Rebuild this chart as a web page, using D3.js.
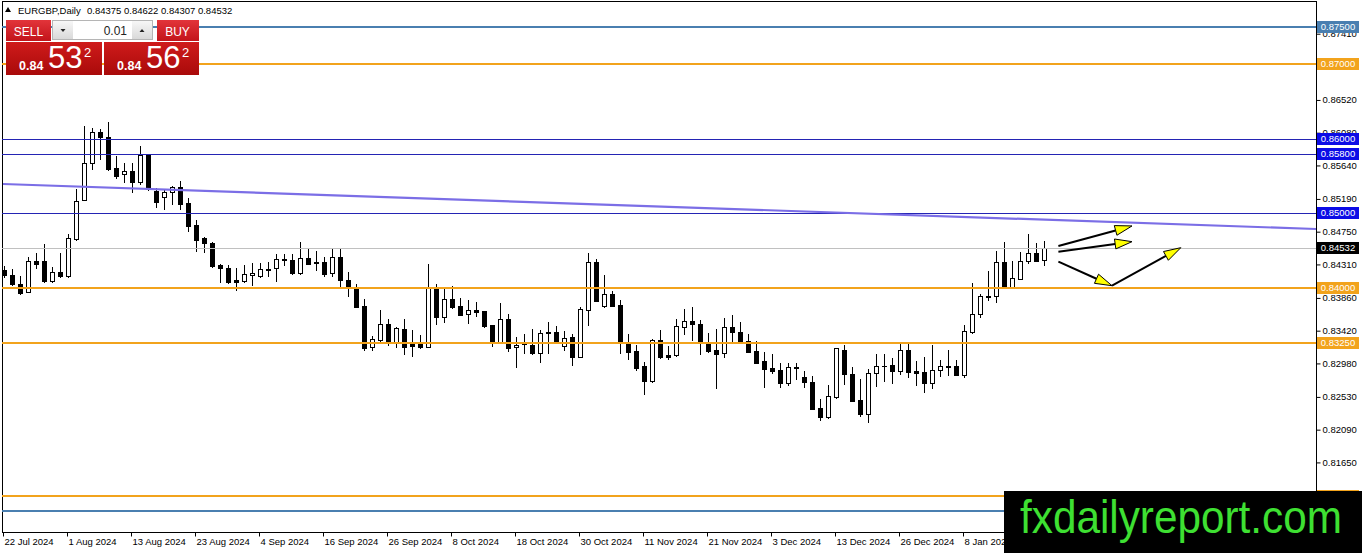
<!DOCTYPE html>
<html>
<head>
<meta charset="utf-8">
<title>EURGBP, Daily</title>
<script src="https://cdn.jsdelivr.net/npm/d3@7"></script>
<style>
    html, body { margin: 0; padding: 0; background: #fff; overflow: hidden; }
    svg { display: block; font-family: "Liberation Sans", Arial, sans-serif; }
</style>
</head>
<body>
<div id="chart"></div>
<script>
'use strict';

// EURGBP daily candles, 22 Jul 2024 .. Jan 2025
var opens = [
    0.84235, 0.84168, 0.84047, 0.83940, 0.84356, 0.84356, 0.84087, 0.84208, 0.84155, 0.84652,
    0.85176, 0.85673, 0.86090, 0.86023, 0.85606, 0.85525, 0.85566, 0.85418, 0.85785, 0.85297,
    0.85216, 0.85284, 0.85351, 0.85136, 0.84840, 0.84665, 0.84598, 0.84302, 0.84262, 0.84101,
    0.84087, 0.84168, 0.84155, 0.84235, 0.84262, 0.84383, 0.84370, 0.84195, 0.84396, 0.84343,
    0.84343, 0.84195, 0.84410, 0.84101, 0.83993, 0.83751, 0.83200, 0.83294, 0.83509, 0.83254,
    0.83442, 0.83268, 0.83268, 0.83200, 0.83980, 0.83604, 0.83845, 0.83751, 0.83644, 0.83698,
    0.83684, 0.83496, 0.83254, 0.83577, 0.83200, 0.83247, 0.83227, 0.83120, 0.83388, 0.83402,
    0.83214, 0.83335, 0.83066, 0.83698, 0.84343, 0.83751, 0.83913, 0.83765, 0.83254, 0.83147,
    0.82945, 0.82743, 0.83294, 0.83093, 0.83093, 0.83469, 0.83550, 0.83509, 0.83268, 0.83160,
    0.83120, 0.83469, 0.83402, 0.83281, 0.83147, 0.83012, 0.82918, 0.82891, 0.82716, 0.82918,
    0.82797, 0.82730, 0.82380, 0.82260, 0.82528, 0.83160, 0.82837, 0.82488, 0.82300, 0.82851,
    0.82945, 0.82958, 0.82878, 0.83160, 0.82878, 0.82864, 0.82716, 0.82891, 0.82945, 0.82945,
    0.82824, 0.83402, 0.83644, 0.83886, 0.83886, 0.84343, 0.84007, 0.84114, 0.84356, 0.84464,
    0.84375
];
var highs = [
    0.84289, 0.84249, 0.84155, 0.84410, 0.84464, 0.84585, 0.84276, 0.84464, 0.84719, 0.85324,
    0.86170, 0.86144, 0.86130, 0.86224, 0.85767, 0.85673, 0.85673, 0.85902, 0.85794, 0.85337,
    0.85324, 0.85364, 0.85431, 0.85203, 0.84907, 0.84679, 0.84605, 0.84316, 0.84302, 0.84262,
    0.84302, 0.84329, 0.84329, 0.84343, 0.84450, 0.84450, 0.84450, 0.84612, 0.84531, 0.84491,
    0.84410, 0.84517, 0.84517, 0.84208, 0.84047, 0.83845, 0.83348, 0.83698, 0.83577, 0.83469,
    0.83577, 0.83429, 0.83362, 0.84316, 0.84047, 0.84007, 0.84020, 0.83859, 0.83832, 0.83805,
    0.83690, 0.83500, 0.83792, 0.83644, 0.83335, 0.83375, 0.83442, 0.83429, 0.83536, 0.83483,
    0.83415, 0.83375, 0.83738, 0.84464, 0.84383, 0.84168, 0.83953, 0.83832, 0.83375, 0.83227,
    0.82999, 0.83308, 0.83429, 0.83214, 0.83577, 0.83711, 0.83738, 0.83563, 0.83388, 0.83442,
    0.83590, 0.83631, 0.83536, 0.83375, 0.83281, 0.83133, 0.83106, 0.82985, 0.82985, 0.82985,
    0.82878, 0.82810, 0.82501, 0.82690, 0.83190, 0.83227, 0.82932, 0.82770, 0.82905, 0.83106,
    0.83106, 0.83052, 0.83240, 0.83268, 0.83012, 0.83066, 0.83227, 0.83026, 0.83160, 0.83026,
    0.83496, 0.84060, 0.83913, 0.84222, 0.84491, 0.84612, 0.84356, 0.84477, 0.84719, 0.84598,
    0.84622
];
var lows = [
    0.84141, 0.84034, 0.83913, 0.83935, 0.84262, 0.84074, 0.84074, 0.84141, 0.84141, 0.84638,
    0.85170, 0.85593, 0.85727, 0.85579, 0.85472, 0.85418, 0.85284, 0.85391, 0.85310, 0.85082,
    0.85055, 0.85122, 0.85055, 0.84759, 0.84491, 0.84477, 0.84276, 0.84074, 0.84060, 0.83966,
    0.84074, 0.84034, 0.84141, 0.84155, 0.84087, 0.84302, 0.84188, 0.84188, 0.84310, 0.84235,
    0.84155, 0.84155, 0.84007, 0.83886, 0.83732, 0.83160, 0.83160, 0.83268, 0.83227, 0.83200,
    0.83106, 0.83079, 0.83187, 0.83195, 0.83509, 0.83536, 0.83724, 0.83625, 0.83523, 0.83617,
    0.83469, 0.83214, 0.83250, 0.83147, 0.82932, 0.83120, 0.83106, 0.82999, 0.83120, 0.83250,
    0.83160, 0.82958, 0.83060, 0.83496, 0.83815, 0.83738, 0.83745, 0.83120, 0.83039, 0.82891,
    0.82569, 0.82730, 0.83053, 0.83039, 0.83079, 0.83375, 0.83294, 0.83106, 0.83133, 0.82649,
    0.83066, 0.83268, 0.83268, 0.83127, 0.82980, 0.82663, 0.82851, 0.82663, 0.82690, 0.82770,
    0.82663, 0.82362, 0.82219, 0.82246, 0.82522, 0.82703, 0.82470, 0.82273, 0.82192, 0.82676,
    0.82743, 0.82716, 0.82837, 0.82797, 0.82690, 0.82596, 0.82649, 0.82810, 0.82824, 0.82820,
    0.82797, 0.83388, 0.83604, 0.83832, 0.83805, 0.84000, 0.84000, 0.84108, 0.84329, 0.84350,
    0.84307
];
var closes = [
    0.84168, 0.84047, 0.83926, 0.84356, 0.84316, 0.84087, 0.84208, 0.84155, 0.84665, 0.85163,
    0.85673, 0.86090, 0.86023, 0.85593, 0.85499, 0.85566, 0.85418, 0.85781, 0.85324, 0.85149,
    0.85284, 0.85351, 0.85122, 0.84827, 0.84638, 0.84598, 0.84289, 0.84262, 0.84074, 0.84074,
    0.84181, 0.84195, 0.84249, 0.84242, 0.84383, 0.84370, 0.84195, 0.84396, 0.84316, 0.84329,
    0.84181, 0.84410, 0.84101, 0.83993, 0.83738, 0.83187, 0.83308, 0.83509, 0.83254, 0.83456,
    0.83200, 0.83214, 0.83200, 0.83993, 0.83604, 0.83845, 0.83738, 0.83630, 0.83698, 0.83671,
    0.83483, 0.83254, 0.83577, 0.83187, 0.83227, 0.83240, 0.83120, 0.83388, 0.83402, 0.83254,
    0.83321, 0.83066, 0.83711, 0.84343, 0.83819, 0.83913, 0.83751, 0.83254, 0.83133, 0.82918,
    0.82743, 0.83294, 0.83066, 0.83066, 0.83483, 0.83550, 0.83509, 0.83268, 0.83147, 0.83106,
    0.83469, 0.83402, 0.83281, 0.83133, 0.82985, 0.82905, 0.82878, 0.82716, 0.82932, 0.82932,
    0.82730, 0.82367, 0.82260, 0.82542, 0.83187, 0.82837, 0.82475, 0.82300, 0.82851, 0.82945,
    0.82940, 0.82878, 0.83160, 0.82864, 0.82851, 0.82716, 0.82891, 0.82945, 0.82932, 0.82824,
    0.83415, 0.83644, 0.83886, 0.83872, 0.84343, 0.84007, 0.84128, 0.84356, 0.84464, 0.84356,
    0.84532
];

var xLabels = ['22 Jul 2024', '1 Aug 2024', '13 Aug 2024', '23 Aug 2024', '4 Sep 2024', '16 Sep 2024',
    '26 Sep 2024', '8 Oct 2024', '18 Oct 2024', '30 Oct 2024', '11 Nov 2024', '21 Nov 2024',
    '3 Dec 2024', '13 Dec 2024', '26 Dec 2024', '8 Jan 2025'];
var labelBars = [0, 8, 16, 24, 32, 40, 48, 56, 64, 72, 80, 88, 96, 104, 112, 120];

var yTicks = [0.87410, 0.86970, 0.86520, 0.86080, 0.85640, 0.85190, 0.84750, 0.84310,
    0.83860, 0.83420, 0.82980, 0.82530, 0.82090, 0.81650];

var levelPrices = [0.87500, 0.87000, 0.86000, 0.85800, 0.85000, 0.84000, 0.83250, 0.81200, 0.81000];
var levelKinds = ['steel', 'orange', 'blue', 'blue', 'blue', 'orange', 'orange', 'orange', 'steel'];

var bidPrice = 0.84532;
var trendBars = [-0.125, 164];
var trendPrices = [0.85391, 0.84786];

// hand-drawn forecast arrows: [fromBar, fromPrice, toBar, toPrice]
var arrows = [
    [131.8, 0.84558, 141.0, 0.84827],
    [131.8, 0.84481, 141.0, 0.84616],
    [131.8, 0.84347, 138.5, 0.84024],
    [138.5, 0.84024, 147.1, 0.84535]
];

var titleText = 'EURGBP,Daily';
var ohlcText = '0.84375 0.84622 0.84307 0.84532';

var W = 1362, H = 553;
var plot = {left: 2, right: 1316, top: 2, bottom: 532};
var stamp = {left: 1004, top: 491};

var kindColor = {steel: '#4a7fb0', orange: '#f2a31c', blue: '#2424b4'};
var kindBox = {steel: '#4a7fb0', orange: '#f2a31c', blue: '#0c0ce6'};
var kindWidth = {steel: 2, orange: 2, blue: 1};

var x = d3.scaleLinear().domain([-0.25, 164]).range([plot.left, plot.right]);
var y = d3.scaleLinear().domain([0.80715, 0.87836]).range([plot.bottom, plot.top]);

var svg = d3.select('#chart').append('svg')
    .attr('width', W)
    .attr('height', H)
    .attr('viewBox', '0 0 ' + W + ' ' + H);

var defs = svg.append('defs');
defs.append('clipPath').attr('id', 'plotClip')
    .append('rect')
    .attr('x', plot.left).attr('y', plot.top)
    .attr('width', plot.right - plot.left).attr('height', plot.bottom - plot.top);

function gradient(id, top, bottom) {
    var gr = defs.append('linearGradient').attr('id', id)
        .attr('x1', 0).attr('y1', 0).attr('x2', 0).attr('y2', 1);
    gr.append('stop').attr('offset', '0%').attr('stop-color', top);
    gr.append('stop').attr('offset', '100%').attr('stop-color', bottom);
}
gradient('btnRed', '#e2343a', '#c3141b');
gradient('priceRed', '#cf1b1b', '#a90a0a');
gradient('btnGrey', '#f7f7f7', '#d9d9d9');

function crisp(v) { return Math.round(v) + 0.5; }

svg.append('rect').attr('width', W).attr('height', H).attr('fill', '#fff');

// chart frame
svg.append('rect')
    .attr('x', plot.left + 0.5).attr('y', plot.top - 0.5)
    .attr('width', plot.right - plot.left).attr('height', plot.bottom - plot.top + 1)
    .attr('fill', 'none').attr('stroke', '#000').attr('stroke-width', 1);

var candles = opens.map(function(o, i) {
    return {i: i, o: o, h: highs[i], l: lows[i], c: closes[i]};
});

var plotG = svg.append('g').attr('clip-path', 'url(#plotClip)');

function cx(d) { return crisp(x(d.i)); }

var bars = plotG.selectAll('g.candle')
    .data(candles)
    .enter().append('g')
    .attr('class', 'candle');

bars.append('line')
    .attr('x1', cx).attr('x2', cx)
    .attr('y1', function(d) { return Math.round(y(d.h)); })
    .attr('y2', function(d) { return Math.round(y(d.l)) + 1; })
    .attr('stroke', '#000')
    .attr('stroke-width', 1);

bars.append('rect')
    .attr('x', function(d) { return cx(d) - 2; })
    .attr('width', 4)
    .attr('y', function(d) { return crisp(y(Math.max(d.o, d.c))); })
    .attr('height', function(d) {
        var hgt = Math.round(y(Math.min(d.o, d.c))) - Math.round(y(Math.max(d.o, d.c)));
        return Math.max(hgt, 0.01);
    })
    .attr('fill', function(d) { return d.c >= d.o ? '#fff' : '#000'; })
    .attr('stroke', '#000')
    .attr('stroke-width', 1);

// horizontal levels
var levels = levelPrices.map(function(p, i) { return {price: p, kind: levelKinds[i]}; });

function levelY(d) {
    return kindWidth[d.kind] === 1 ? crisp(y(d.price)) : Math.round(y(d.price));
}

plotG.selectAll('line.level')
    .data(levels)
    .enter().append('line')
    .attr('class', 'level')
    .attr('x1', plot.left).attr('x2', plot.right)
    .attr('y1', levelY)
    .attr('y2', levelY)
    .attr('stroke', function(d) { return kindColor[d.kind]; })
    .attr('stroke-width', function(d) { return kindWidth[d.kind]; });

// bid line
plotG.append('line')
    .attr('x1', plot.left).attr('x2', plot.right)
    .attr('y1', crisp(y(bidPrice))).attr('y2', crisp(y(bidPrice)))
    .attr('stroke', '#c0c0c0').attr('stroke-width', 1);

// trend line
plotG.append('line')
    .attr('x1', x(trendBars[0])).attr('y1', y(trendPrices[0]))
    .attr('x2', x(trendBars[1])).attr('y2', y(trendPrices[1]))
    .attr('stroke', '#7b6ee6').attr('stroke-width', 2.2);

// arrows
var headLen = 17, headHalf = 5;
arrows.forEach(function(a) {
    var x1 = x(a[0]), y1 = y(a[1]), x2 = x(a[2]), y2 = y(a[3]);
    var ang = Math.atan2(y2 - y1, x2 - x1);
    var bx = x2 - headLen * Math.cos(ang), by = y2 - headLen * Math.sin(ang);
    var px = -Math.sin(ang) * headHalf, py = Math.cos(ang) * headHalf;
    plotG.append('line')
        .attr('x1', x1).attr('y1', y1).attr('x2', bx).attr('y2', by)
        .attr('stroke', '#000').attr('stroke-width', 2);
    plotG.append('path')
        .attr('d', 'M' + x2 + ',' + y2 + 'L' + (bx + px) + ',' + (by + py) + 'L' + (bx - px) + ',' + (by - py) + 'Z')
        .attr('fill', '#ffff00').attr('stroke', '#000').attr('stroke-width', 1);
});

// price axis
var yAxis = d3.axisRight(y)
    .tickValues(yTicks)
    .tickFormat(d3.format('.5f'))
    .tickSize(4)
    .tickPadding(2);

var yAxisG = svg.append('g')
    .attr('transform', 'translate(' + (plot.right + 0.5) + ',0)')
    .call(yAxis);
yAxisG.select('.domain').remove();
yAxisG.selectAll('.tick line').attr('stroke', '#000');
yAxisG.selectAll('.tick text')
    .attr('fill', '#000')
    .style('font-size', '9.5px')
    .style('font-family', '"Liberation Sans", Arial, sans-serif');

// level price boxes (the two lowest sit under the watermark, only their edge shows)
var boxes = levels.concat([{price: bidPrice, kind: 'bid'}]);
var boxG = svg.selectAll('g.pbox')
    .data(boxes)
    .enter().append('g')
    .attr('class', 'pbox')
    .attr('transform', function(d) { return 'translate(' + (plot.right + 1) + ',' + Math.round(y(d.price)) + ')'; });

boxG.append('rect')
    .attr('x', 0).attr('y', -6)
    .attr('width', 42).attr('height', 12)
    .attr('fill', function(d) { return d.kind === 'bid' ? '#000' : kindBox[d.kind]; });

boxG.filter(function(d) { return y(d.price) < stamp.top - 8; })
    .append('text')
    .attr('x', 21).attr('y', 0).attr('dy', '0.35em')
    .attr('text-anchor', 'middle')
    .attr('fill', '#fff')
    .style('font-size', '9.5px')
    .text(function(d) { return d3.format('.5f')(d.price); });

// time axis
var xAxis = d3.axisBottom(x)
    .tickValues(labelBars)
    .tickFormat(function(d, i) { return xLabels[i]; })
    .tickSize(4)
    .tickPadding(2);

var xAxisG = svg.append('g')
    .attr('transform', 'translate(-1,' + (plot.bottom + 0.5) + ')')
    .call(xAxis);
xAxisG.select('.domain').remove();
xAxisG.selectAll('.tick line').attr('stroke', '#000');
xAxisG.selectAll('.tick text')
    .attr('text-anchor', 'start')
    .attr('x', 1)
    .attr('fill', '#000')
    .style('font-size', '9.5px')
    .style('font-family', '"Liberation Sans", Arial, sans-serif');

// title
svg.append('path').attr('d', 'M5,12L11,12L8,7Z').attr('fill', '#000');
svg.append('text').attr('x', 18).attr('y', 14)
    .style('font-size', '9.5px').attr('fill', '#000').text(titleText);
svg.append('text').attr('x', 87).attr('y', 14)
    .style('font-size', '9.5px').attr('fill', '#000').text(ohlcText);

// one-click trading panel
var panel = svg.append('g');
panel.append('rect').attr('x', 6).attr('y', 20).attr('width', 45).attr('height', 21).attr('fill', 'url(#btnRed)');
panel.append('rect').attr('x', 157).attr('y', 20).attr('width', 42).attr('height', 21).attr('fill', 'url(#btnRed)');
panel.append('rect').attr('x', 6).attr('y', 42).attr('width', 96).attr('height', 33).attr('fill', 'url(#priceRed)');
panel.append('rect').attr('x', 104).attr('y', 42).attr('width', 95).attr('height', 33).attr('fill', 'url(#priceRed)');

panel.append('rect').attr('x', 52.5).attr('y', 20.5).attr('width', 100).attr('height', 19)
    .attr('fill', '#fff').attr('stroke', '#b5b5b5');
panel.append('rect').attr('x', 53).attr('y', 21).attr('width', 20).attr('height', 18).attr('fill', 'url(#btnGrey)');
panel.append('rect').attr('x', 132).attr('y', 21).attr('width', 20).attr('height', 18).attr('fill', 'url(#btnGrey)');
panel.append('path').attr('d', 'M60.5,29L65.5,29L63,32Z').attr('fill', '#222');
panel.append('path').attr('d', 'M139.5,32L144.5,32L142,29Z').attr('fill', '#222');
panel.append('text').attr('x', 127).attr('y', 35).attr('text-anchor', 'end')
    .style('font-size', '12px').attr('fill', '#222').text('0.01');

panel.append('text').attr('x', 28.5).attr('y', 35.5).attr('text-anchor', 'middle')
    .style('font-size', '12px').attr('fill', '#fff').text('SELL');
panel.append('text').attr('x', 177.5).attr('y', 35.5).attr('text-anchor', 'middle')
    .style('font-size', '12px').attr('fill', '#fff').text('BUY');

function priceBlock(x0, big) {
    panel.append('text').attr('x', x0).attr('y', 70)
        .style('font-size', '12.5px').style('font-weight', 'bold').attr('fill', '#fff').text('0.84');
    panel.append('text').attr('x', x0 + 29).attr('y', 68)
        .style('font-size', '31px').attr('fill', '#fff').text(big);
    panel.append('text').attr('x', x0 + 65).attr('y', 57)
        .style('font-size', '13px').attr('fill', '#fff').text('2');
}
priceBlock(19, '53');
priceBlock(117, '56');

// watermark
svg.append('rect').attr('x', stamp.left).attr('y', stamp.top)
    .attr('width', W - stamp.left).attr('height', H - stamp.top).attr('fill', '#000');
svg.append('text')
    .attr('transform', 'translate(1020,533) scale(0.9,1)')
    .style('font-family', '"Liberation Sans", Arial, sans-serif')
    .style('font-size', '47px')
    .attr('fill', '#3ee032')
    .text('fxdailyreport.com');
</script>
</body>
</html>
